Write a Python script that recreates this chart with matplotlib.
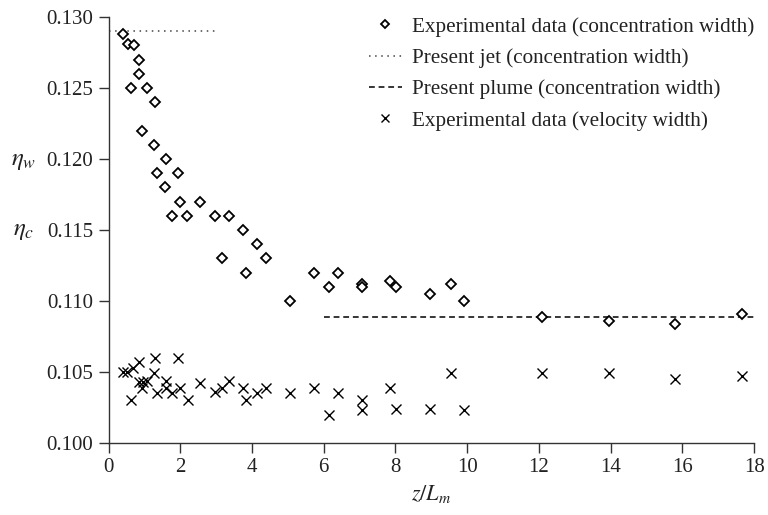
import matplotlib
matplotlib.use("Agg")
import matplotlib.pyplot as plt
from matplotlib.lines import Line2D

plt.rcParams['font.family'] = ['Liberation Serif', 'DejaVu Serif']
plt.rcParams['mathtext.fontset'] = 'stix'

# Experimental data (concentration width)
conc_x = [0.40, 0.55, 0.70, 0.85, 0.84, 0.62, 1.06, 1.30, 0.93, 1.27, 1.61, 1.36, 1.94,
          1.58, 1.98, 2.56, 1.78, 2.20, 2.96, 3.35, 3.75, 4.14, 3.15, 4.38, 3.83, 5.06,
          5.73, 6.14, 6.40, 7.08, 7.08, 7.86, 8.02, 8.97, 9.55, 9.90, 12.08, 13.94, 15.80, 17.66]
conc_y = [0.1288, 0.1281, 0.1280, 0.1270, 0.1260, 0.1250, 0.1250, 0.1240, 0.1220, 0.1210,
          0.1200, 0.1190, 0.1190, 0.1180, 0.1170, 0.1170, 0.1160, 0.1160, 0.1160, 0.1160,
          0.1150, 0.1140, 0.1130, 0.1130, 0.1120, 0.1100, 0.1120, 0.1110, 0.1120, 0.1112,
          0.1110, 0.1114, 0.1110, 0.1105, 0.1112, 0.1100, 0.1089, 0.1086, 0.1084, 0.1091]

# Experimental data (velocity width)
vel_x = [0.41, 0.51, 0.69, 0.85, 0.62, 0.85, 0.97, 0.93, 1.06, 1.30, 1.27, 1.36, 1.59,
         1.59, 1.78, 1.98, 1.94, 2.21, 2.56, 2.96, 3.15, 3.35, 3.75, 3.83, 4.14, 4.38,
         5.06, 5.73, 6.14, 6.40, 7.08, 7.08, 7.86, 8.02, 8.97, 9.55, 9.90,
         12.08, 13.94, 15.80, 17.66]
vel_y = [0.1050, 0.1050, 0.1053, 0.1057, 0.1030, 0.1043, 0.1043, 0.1039, 0.1044, 0.1060,
         0.1049, 0.1035, 0.1044, 0.1039, 0.1035, 0.1039, 0.1060, 0.1030, 0.1042, 0.1036,
         0.1039, 0.1044, 0.1039, 0.1030, 0.1035, 0.1039, 0.1035, 0.1039, 0.1020, 0.1035,
         0.1030, 0.1023, 0.1039, 0.1024, 0.1024, 0.1049, 0.1023,
         0.1049, 0.1049, 0.1045, 0.1047]

# Present jet / plume (concentration width)
jet_x = [0.0, 3.0]
jet_y = [0.129, 0.129]
plume_x = [6.0, 18.0]
plume_y = [0.1089, 0.1089]

fig = plt.figure(figsize=(7.68, 5.15), dpi=100)
ax = fig.add_axes([0.1413, 0.1398, 0.8407, 0.8272])

fs = 15
grey = '#333333'
dot_style = (0, (1, 3))
dash_style = (0, (3.8, 2.5))

ax.plot(jet_x, jet_y, linestyle=dot_style, color='#444444', lw=1.1)
ax.plot(plume_x, plume_y, linestyle=dash_style, color='black', lw=1.1)
ax.plot(conc_x, conc_y, linestyle='none', marker='D', markersize=5,
        markerfacecolor='white', markeredgecolor='black', markeredgewidth=1.3)
ax.plot(vel_x, vel_y, linestyle='none', marker='x', markersize=7,
        color='black', markeredgewidth=1.0)

ax.set_xlim(0, 18)
ax.set_ylim(0.100, 0.130)
ax.set_xticks(range(0, 19, 2))
ax.set_yticks([0.100, 0.105, 0.110, 0.115, 0.120, 0.125, 0.130])
ax.set_yticklabels(['0.100', '0.105', '0.110', '0.115', '0.120', '0.125', '0.130'])

for s in ['top', 'right']:
    ax.spines[s].set_visible(False)
for s in ['left', 'bottom']:
    ax.spines[s].set_color(grey)
    ax.spines[s].set_linewidth(1.0)
ax.tick_params(direction='out', length=7, width=1.0, color=grey,
               labelsize=fs, pad=4, labelcolor='#222222')

ax.set_xlabel(r'$z/L_m$', fontsize=fs + 1, color='#222222', labelpad=4)
fig.text(24 / 768, 1 - 161 / 515, r'$\eta_w$', fontsize=fs + 3, ha='center', va='center', color='#222222')
fig.text(24 / 768, 1 - 231 / 515, r'$\eta_c$', fontsize=fs + 3, ha='center', va='center', color='#222222')

handles = [
    Line2D([], [], linestyle='none', marker='D', markersize=4.5,
           markerfacecolor='white', markeredgecolor='black', markeredgewidth=1.3),
    Line2D([], [], linestyle=dot_style, color='#444444', lw=1.1),
    Line2D([], [], linestyle=dash_style, color='black', lw=1.1),
    Line2D([], [], linestyle='none', marker='x', markersize=6, color='black', markeredgewidth=1.0),
]
labels = ['Experimental data (concentration width)',
          'Present jet (concentration width)',
          'Present plume (concentration width)',
          'Experimental data (velocity width)']
leg = ax.legend(handles, labels, loc='upper right', bbox_to_anchor=(1.013, 1.02),
                frameon=False, fontsize=15.2, handlelength=1.6, handletextpad=0.45,
                labelspacing=0.55, borderaxespad=0.0)
for t in leg.get_texts():
    t.set_color('#222222')

fig.savefig('out.png', dpi=100)
